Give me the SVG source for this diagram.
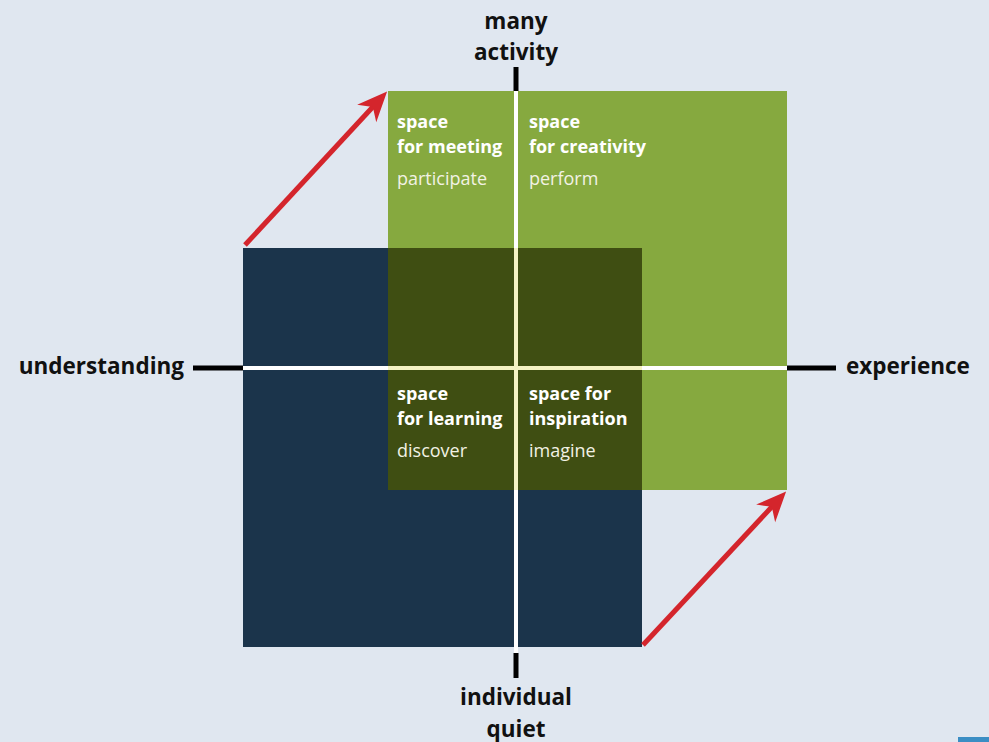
<svg xmlns="http://www.w3.org/2000/svg" width="989" height="742" viewBox="0 0 989 742">
  <style>
    .axis { font-family: "Open Sans", "Noto Sans", sans-serif; font-weight: bold; font-size: 22.5px; fill: #111; }
    .title { font-family: "Open Sans", "Noto Sans", sans-serif; font-weight: bold; font-size: 18px; fill: #fff; }
    .verb { font-family: "Open Sans", "Noto Sans", sans-serif; font-size: 18px; fill: #f2f2e4; }
    .red { stroke: #d4252c; stroke-width: 5; fill: none; }
  </style>
  <defs>
    <marker id="head" markerWidth="6" markerHeight="6" refX="4.5" refY="3" orient="auto" markerUnits="strokeWidth">
      <path d="M0,0.4 L6,3 L0,5.6 L1.8,3 Z" fill="#d4252c"/>
    </marker>
  </defs>
  <rect width="989" height="742" fill="#e0e7f0"/>

  <!-- fields -->
  <g id="fields">
    <rect id="field-green" x="388" y="91" width="399" height="399" fill="#86a93f"/>
    <rect id="field-navy" x="243" y="248" width="399" height="399" fill="#1b344b"/>
    <rect id="field-overlap" x="388" y="248" width="254" height="242" fill="#3f4e12"/>
  </g>

  <!-- axes -->
  <g id="axes">
    <line x1="516" y1="91" x2="516" y2="653" stroke="#ffffff" stroke-width="4"/>
    <line x1="243" y1="368" x2="787" y2="368" stroke="#ffffff" stroke-width="4"/>
    <line x1="516" y1="248" x2="516" y2="490" stroke="#f4f2c4" stroke-width="4"/>
    <line x1="388" y1="368" x2="642" y2="368" stroke="#f4f2c4" stroke-width="4"/>
    <line x1="516" y1="67" x2="516" y2="91" stroke="#000" stroke-width="5"/>
    <line x1="516" y1="653" x2="516" y2="678" stroke="#000" stroke-width="5"/>
    <line x1="193" y1="368" x2="243" y2="368" stroke="#000" stroke-width="5"/>
    <line x1="787" y1="368" x2="836" y2="368" stroke="#000" stroke-width="5"/>
  </g>

  <!-- connectors -->
  <g id="connectors">
    <line class="red" x1="245" y1="245" x2="382" y2="97" marker-end="url(#head)"/>
    <line class="red" x1="643" y1="645" x2="781" y2="497" marker-end="url(#head)"/>
  </g>

  <!-- axis labels -->
  <g id="label-top">
    <text class="axis" x="516" y="29" text-anchor="middle">many</text>
    <text class="axis" x="516" y="60" text-anchor="middle">activity</text>
  </g>
  <g id="label-bottom">
    <text class="axis" x="516" y="705" text-anchor="middle">individual</text>
    <text class="axis" x="516" y="737" text-anchor="middle">quiet</text>
  </g>
  <g id="label-left">
    <text class="axis" x="184" y="374" text-anchor="end">understanding</text>
  </g>
  <g id="label-right">
    <text class="axis" x="846" y="374">experience</text>
  </g>

  <!-- quadrants -->
  <g id="q-meeting">
    <text class="title" x="397" y="128">space</text>
    <text class="title" x="397" y="153">for meeting</text>
    <text class="verb" x="397" y="185">participate</text>
  </g>
  <g id="q-creativity">
    <text class="title" x="529" y="128">space</text>
    <text class="title" x="529" y="153">for creativity</text>
    <text class="verb" x="529" y="185">perform</text>
  </g>
  <g id="q-learning">
    <text class="title" x="397" y="400">space</text>
    <text class="title" x="397" y="425">for learning</text>
    <text class="verb" x="397" y="457">discover</text>
  </g>
  <g id="q-inspiration">
    <text class="title" x="529" y="400">space for</text>
    <text class="title" x="529" y="425">inspiration</text>
    <text class="verb" x="529" y="457">imagine</text>
  </g>

  <rect x="958" y="737" width="31" height="5" fill="#3b8ec4"/>
</svg>
